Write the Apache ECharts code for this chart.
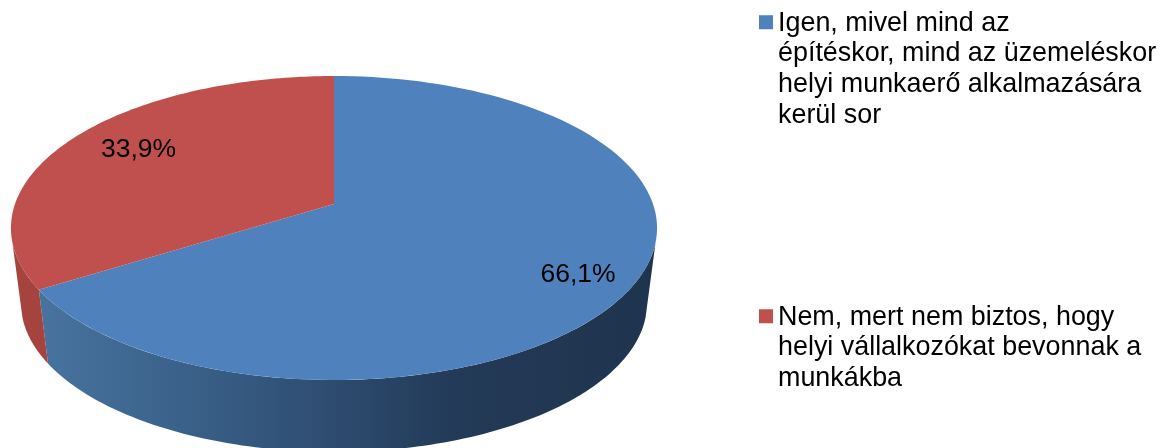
<!DOCTYPE html>
<html><head><meta charset="utf-8">
<style>html,body{margin:0;padding:0;background:#fff}#c{width:1162px;height:448px}</style>
<script src="https://cdn.jsdelivr.net/npm/echarts@6/dist/echarts.min.js"></script>
</head><body><div id="c"></div>
<script>
const answers = [
  "Igen, mivel mind az\népítéskor, mind az üzemeléskor\nhelyi munkaerő alkalmazására\nkerül sor",
  "Nem, mert nem biztos, hogy\nhelyi vállalkozókat bevonnak a\nmunkákba"
];
const shares = [66.1, 33.9];
const shareLabels = ["66,1%", "33,9%"];
const topColors = ["#4F81BD", "#C0504D"];
const sideColors = ["#4F81BD", "#A5433F"];
const labelRadii = [0.835, 0.764];

const apexX = 334, apexY = 204, k = 319, a = 148.2, c = 0.158;
const topCentreY = 228, bottomCentreY = 303, bottomScaleX = 0.969, bottomScaleY = 0.98;
const wallFrom = 104.6 * Math.PI / 180, wallTo = 255.4 * Math.PI / 180;
const FONT = '"Liberation Sans", Arial, sans-serif';
const LH = 30.7, ICON = 14;

const total = shares.reduce((s, v) => s + v, 0);
function proj(theta, r, bottom) {
  const u = Math.sin(theta) * r, v = Math.cos(theta) * r, d = 1 + c * v;
  const x = u * k / d, Y = a * v / d;
  const topY = apexY - Y;
  if (!bottom) return [apexX + x, topY];
  return [apexX + x * bottomScaleX, bottomCentreY + (topY - topCentreY) * bottomScaleY];
}
function arc(t0, t1, bottom) {
  const pts = [], n = 120;
  for (let i = 0; i <= n; i++) pts.push(proj(t0 + (t1 - t0) * i / n, 1, bottom));
  return pts;
}
function sideFill(idx) {
  if (idx === 1) return sideColors[1];
  return new echarts.graphic.LinearGradient(38, 0, 650, 0, [
    {offset: 0, color: "#47749F"},
    {offset: 0.32, color: "#365A82"},
    {offset: 0.68, color: "#233A58"},
    {offset: 1, color: "#1F344D"}
  ], true);
}
function renderSlice(idx) {
  return function () {
    const before = shares.slice(0, idx).reduce((s, v) => s + v, 0);
    const t0 = before / total * 2 * Math.PI;
    const t1 = (before + shares[idx]) / total * 2 * Math.PI;
    const mid = (t0 + t1) / 2 + 2.5 * Math.PI / 180;
    const s0 = Math.max(t0, wallFrom), s1 = Math.min(t1, wallTo);
    const wall = arc(s0, s1, false).concat(arc(s0, s1, true).reverse());
    const lp = proj(mid, labelRadii[idx], false);
    return {
      type: "group",
      children: [
        {type: "polygon", z2: 1, shape: {points: wall}, style: {fill: sideFill(idx)}},
        {type: "polygon", z2: 2, shape: {points: [[apexX, apexY]].concat(arc(t0, t1, false))}, style: {fill: topColors[idx]}},
        {type: "text", z2: 3, x: lp[0], y: lp[1] + 1, style: {
          text: shareLabels[idx], fill: "#000", font: "26.5px " + FONT, align: "center", verticalAlign: "middle"}}
      ]
    };
  };
}
function legendIcon(lines) {
  const H = lines * LH, y0 = (LH - ICON) / 2 - 1;
  return `path://M0 0L0.01 0Z M0 ${y0}L${ICON} ${y0}L${ICON} ${y0 + ICON}L0 ${y0 + ICON}Z M0 ${H}L0.01 ${H}Z`;
}
function legendFor(idx, top) {
  const lines = answers[idx].split("\n").length;
  return {
    data: [answers[idx]], left: 759, top: top, padding: 0, orient: "vertical",
    icon: legendIcon(lines), itemWidth: ICON, itemHeight: lines * LH, selectedMode: false,
    textStyle: {color: "#000", fontFamily: FONT, fontSize: 26.9, lineHeight: LH}
  };
}
const chart = echarts.init(document.getElementById("c"), null, {renderer: "canvas"});
chart.setOption({
  animation: false,
  backgroundColor: "#fff",
  legend: [legendFor(0, 8), legendFor(1, 302)],
  series: answers.map((name, i) => ({
    type: "custom", name: name, coordinateSystem: "none", silent: true,
    itemStyle: {color: topColors[i]},
    data: [shares[i]], renderItem: renderSlice(i)
  }))
});
</script></body></html>
